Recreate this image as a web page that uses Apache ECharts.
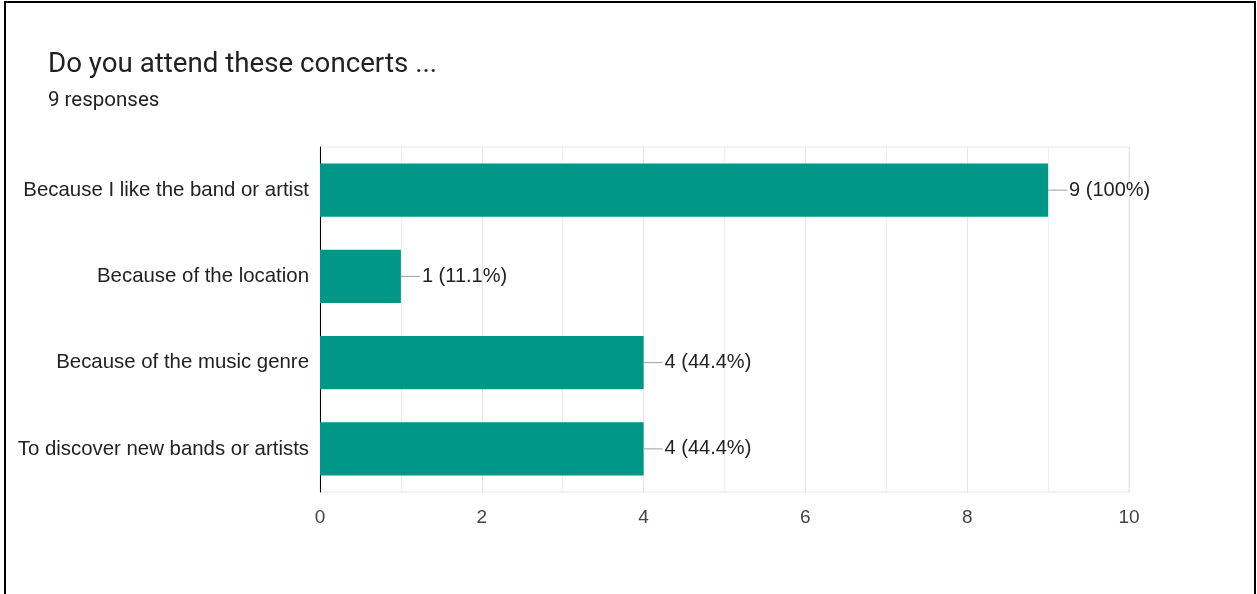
<!DOCTYPE html>
<html>
<head>
<meta charset="utf-8">
<script src="https://cdn.jsdelivr.net/npm/echarts@6/dist/echarts.min.js"></script>
<style>
html,body{margin:0;padding:0;background:#fff;}
#chart{position:absolute;left:0;top:0;width:1257px;height:594px;}
#frame{position:absolute;left:4px;top:1px;width:1248px;height:600px;border:2px solid #000;border-bottom:none;pointer-events:none;}
</style>
</head>
<body>
<div id="chart"></div>
<div id="frame"></div>
<script>
const titleText = 'Do you attend these concerts ...';
const subtitleText = '9 responses';
const categories = [
  'Because I like the band or artist',
  'Because of the location',
  'Because of the music genre',
  'To discover new bands or artists'
];
const counts = [9, 1, 4, 4];
const percentLabels = ['100%', '11.1%', '44.4%', '44.4%'];
const xTicks = [0, 2, 4, 6, 8, 10];

const chart = echarts.init(document.getElementById('chart'));
chart.setOption({
  animation: false,
  backgroundColor: '#fff',
  title: {
    text: titleText,
    subtext: subtitleText,
    left: 48,
    top: 51,
    padding: 0,
    itemGap: 11,
    textStyle: { fontFamily: 'Roboto', fontSize: 27.7, fontWeight: 'normal', color: '#202124' },
    subtextStyle: { fontFamily: 'Roboto', fontSize: 20.5, color: '#202124' }
  },
  grid: {
    left: 320, right: 128, top: 147, bottom: 102,
    show: true, borderColor: '#e6e6e6', borderWidth: 1
  },
  xAxis: {
    type: 'value',
    min: xTicks[0],
    max: xTicks[xTicks.length - 1],
    interval: 2,
    axisLine: { show: false },
    axisTick: { show: false },
    axisLabel: { fontFamily: 'Liberation Sans', fontSize: 19, color: '#444', margin: 16 },
    splitLine: { show: true, lineStyle: { color: '#e6e6e6', width: 1 } },
    minorTick: { show: false, splitNumber: 2 },
    minorSplitLine: { show: true, lineStyle: { color: '#eeeeee', width: 1 } }
  },
  yAxis: {
    type: 'category',
    data: categories,
    inverse: true,
    axisLine: { show: true, lineStyle: { color: '#000', width: 1 } },
    axisTick: { show: false },
    axisLabel: { fontFamily: 'Liberation Sans', fontSize: 20.4, color: '#222', margin: 11 }
  },
  series: [{
    type: 'bar',
    data: counts,
    barCategoryGap: '38%',
    itemStyle: { color: '#009688' },
    label: {
      show: true,
      position: 'right',
      distance: 0,
      formatter: function (p) {
        return '{l|}{t|' + p.value + ' (' + percentLabels[p.dataIndex] + ')}';
      },
      rich: {
        l: { width: 19, height: 1, backgroundColor: '#9e9e9e' },
        t: { fontFamily: 'Liberation Sans', fontSize: 20, color: '#222', padding: [0, 0, 0, 2] }
      }
    }
  }]
});
</script>
</body>
</html>
